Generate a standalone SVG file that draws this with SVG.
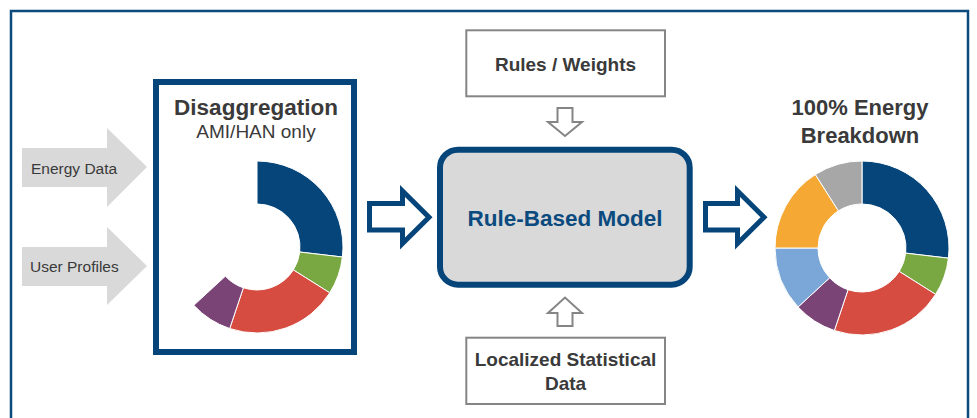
<svg xmlns="http://www.w3.org/2000/svg" width="977" height="418" viewBox="0 0 977 418">
<style>
.t{font-family:"Liberation Sans",Arial,sans-serif;fill:#3a3a3a}
.b{font-weight:bold}
.seg{stroke:#fff;stroke-width:1}
.gbox{fill:#fff;stroke:#858585;stroke-width:2}
.garrow{fill:#fff;stroke:#858585;stroke-width:2;stroke-linejoin:miter}
.barrow{fill:#fff;stroke:#05457a;stroke-width:5;stroke-linejoin:miter}
.inarrow{fill:#d9d9d9}
</style>
<rect width="977" height="418" fill="#fff"/>
<rect id="frame" x="11" y="11" width="957" height="420" fill="none" stroke="#0b4a7a" stroke-width="2.5"/>

<g id="energy-data">
<polygon class="inarrow" points="22,148 107,148 107,128 147,167 107,207 107,187 22,187"/>
<text class="t" x="31" y="174" font-size="15.5">Energy Data</text>
</g>
<g id="user-profiles">
<polygon class="inarrow" points="22,247 107,247 107,227 147,266 107,305 107,286 22,286"/>
<text class="t" x="30" y="272" font-size="15.5">User Profiles</text>
</g>

<g id="disaggregation">
<rect x="156" y="82" width="198" height="270" fill="#fff" stroke="#05457a" stroke-width="6"/>
<text class="t b" x="256" y="115" font-size="22.5" text-anchor="middle">Disaggregation</text>
<text class="t" x="256" y="138" font-size="19" text-anchor="middle">AMI/HAN only</text>
<path class="seg" fill="#05457a" d="M257,161 A86,86 0 0 1 342.41,257.03 L299.71,252.02 A43,43 0 0 0 257,204 Z"/>
<path class="seg" fill="#79a843" d="M342.41,257.03 A86,86 0 0 1 329.77,292.83 L293.39,269.91 A43,43 0 0 0 299.71,252.02 Z"/>
<path class="seg" fill="#d64c41" d="M329.77,292.83 A86,86 0 0 1 229.71,328.56 L243.36,287.78 A43,43 0 0 0 293.39,269.91 Z"/>
<path class="seg" fill="#7b4477" d="M229.71,328.56 A86,86 0 0 1 193.80,305.32 L225.40,276.16 A43,43 0 0 0 243.36,287.78 Z"/>
</g>

<g id="rules-weights">
<rect class="gbox" x="466.3" y="30.3" width="198.7" height="66"/>
<text class="t b" x="565.5" y="70.5" font-size="19" text-anchor="middle">Rules / Weights</text>
</g>

<g id="rule-based-model">
<rect x="440" y="149.7" width="249.7" height="135" rx="18" ry="18" fill="#d9d9d9" stroke="#05457a" stroke-width="6"/>
<text class="b" x="565" y="226" font-size="22.5" text-anchor="middle" font-family="Liberation Sans, Arial, sans-serif" fill="#0b4a7e">Rule-Based Model</text>
</g>

<g id="localized-statistical-data">
<rect class="gbox" x="466.3" y="337.7" width="198.7" height="66.3"/>
<text class="t b" x="565.5" y="366" font-size="19" text-anchor="middle">Localized Statistical</text>
<text class="t b" x="565.5" y="390" font-size="19" text-anchor="middle">Data</text>
</g>

<g id="energy-breakdown">
<text class="t b" x="860" y="115" font-size="22" text-anchor="middle">100% Energy</text>
<text class="t b" x="860" y="142.5" font-size="22" text-anchor="middle">Breakdown</text>
<path class="seg" fill="#05457a" d="M862,161 A87,87 0 0 1 948.41,258.15 L905.70,253.13 A44,44 0 0 0 862,204 Z"/>
<path class="seg" fill="#79a843" d="M948.41,258.15 A87,87 0 0 1 935.62,294.36 L899.23,271.45 A44,44 0 0 0 905.70,253.13 Z"/>
<path class="seg" fill="#d64c41" d="M935.62,294.36 A87,87 0 0 1 834.39,330.50 L848.04,289.73 A44,44 0 0 0 899.23,271.45 Z"/>
<path class="seg" fill="#7b4477" d="M834.39,330.50 A87,87 0 0 1 798.06,307.00 L829.66,277.84 A44,44 0 0 0 848.04,289.73 Z"/>
<path class="seg" fill="#7aa7d7" d="M798.06,307.00 A87,87 0 0 1 775,248 L818,248 A44,44 0 0 0 829.66,277.84 Z"/>
<path class="seg" fill="#f5a833" d="M775,248 A87,87 0 0 1 815.38,174.54 L838.42,210.85 A44,44 0 0 0 818,248 Z"/>
<path class="seg" fill="#a7a7a7" d="M815.38,174.54 A87,87 0 0 1 862,161 L862,204 A44,44 0 0 0 838.42,210.85 Z"/>
</g>

<g id="connectors">
<polygon class="barrow" points="369.5,203.5 402.5,203.5 402.5,191 429,217.3 402.5,243.5 402.5,230 369.5,230"/>
<polygon class="barrow" points="705.5,203.5 737.5,203.5 737.5,191 764,217.3 737.5,243.5 737.5,230 705.5,230"/>
<polygon class="garrow" points="557.5,108 572.5,108 572.5,122 582,122 565,136 548,122 557.5,122"/>
<polygon class="garrow" points="557.5,326 572.5,326 572.5,313 582,313 565,297.5 548,313 557.5,313"/>
</g>
</svg>
